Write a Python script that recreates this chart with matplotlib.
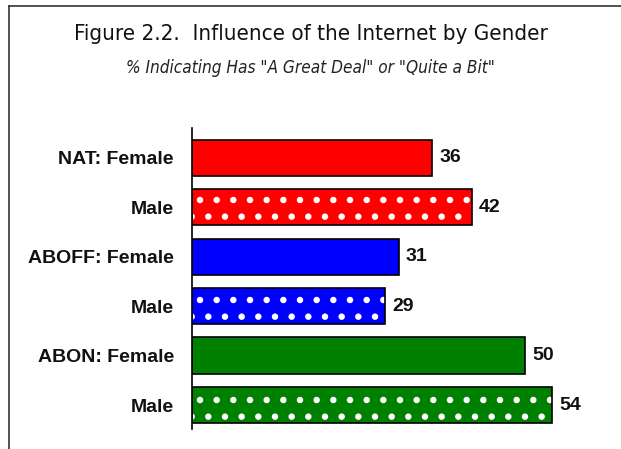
import matplotlib
matplotlib.use("Agg")
import matplotlib.pyplot as plt
from matplotlib.lines import Line2D

labels = ["NAT: Female", "Male", "ABOFF: Female", "Male", "ABON: Female", "Male"]
values = [36, 42, 31, 29, 50, 54]
colors = ["#ff0000", "#ff0000", "#0000ff", "#0000ff", "#008000", "#008000"]
dotted = [False, True, False, True, False, True]

label_font = ["Liberation Sans", "DejaVu Sans"]
plt.rcParams["font.family"] = ["DejaVu Sans"]
plt.rcParams["font.stretch"] = "condensed"
plt.rcParams["hatch.linewidth"] = 2.2

fig = plt.figure(figsize=(6.21, 4.49), dpi=100)
ax = fig.add_axes([0.309, 0.0445, 0.644, 0.670])

for i, (v, c, d) in enumerate(zip(values, colors, dotted)):
    ax.barh(i, v, height=0.73, color=c, edgecolor="white" if d else "black",
            linewidth=0 if d else 1.2, hatch="." if d else None, zorder=2)
    if d:
        ax.barh(i, v, height=0.73, fill=False, edgecolor="black", linewidth=1.2, zorder=3)
    ax.text(v + 1.1, i, str(v), va="center", ha="left", fontsize=14,
            fontweight="bold", family=label_font, stretch="normal", color="#111111")

ax.set_xlim(0, 60)
ax.set_ylim(5.485, -0.596)
ax.set_yticks(range(len(labels)))
ax.set_yticklabels(labels, fontsize=14, fontweight="bold", family=label_font,
                   stretch="normal", color="#111111")
ax.tick_params(axis="y", length=0, pad=13)
ax.set_xticks([])
for s in ["top", "right", "bottom"]:
    ax.spines[s].set_visible(False)
ax.spines["left"].set_linewidth(1.2)

fig.text(0.5, 0.925, "Figure 2.2.  Influence of the Internet by Gender",
         ha="center", va="center", fontsize=16, color="#111111")
fig.text(0.5, 0.848, '% Indicating Has "A Great Deal" or "Quite a Bit"',
         ha="center", va="center", fontsize=12.3, style="italic", color="#222222")

# figure frame (left and top lines)
fig.add_artist(Line2D([0.0137, 0.0137], [0, 0.987], transform=fig.transFigure,
                      color="#333333", linewidth=1.2))
fig.add_artist(Line2D([0.0137, 1.0], [0.987, 0.987], transform=fig.transFigure,
                      color="#333333", linewidth=1.2))

fig.savefig("out.png", dpi=100)
